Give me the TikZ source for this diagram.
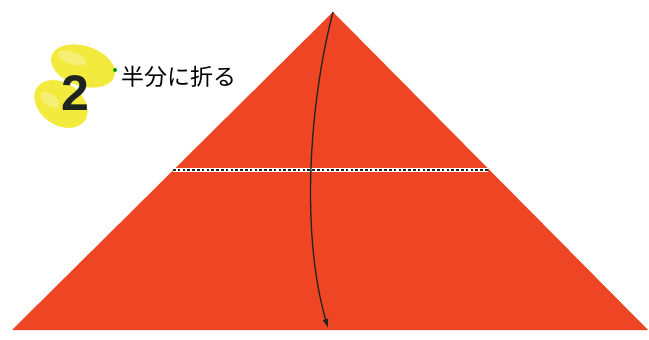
\documentclass[tikz,border=0pt]{standalone}
\usepackage{fontspec}
\usetikzlibrary{arrows.meta}
\newfontfamily\jpfont{Noto Sans CJK JP}
\newfontfamily\numfont{Liberation Sans}
\definecolor{paper}{HTML}{EE4624}
\definecolor{hilite}{HTML}{F2EA3C}
\definecolor{hilitelight}{HTML}{F8F49A}
\definecolor{ink}{HTML}{1E2420}
\begin{document}
\begin{tikzpicture}[x=1pt,y=-1pt,
  sheet/.style={fill=paper,draw=none},
  foldline/.style={white,line width=3.5pt},
  folddash/.style={ink,line width=1.6pt,dash pattern=on 2.6pt off 2.2pt},
  foldarrow/.style={ink,line width=1.3pt,-{Latex[length=9pt,width=6pt]}},
  blob/.style={fill=hilite,draw=none},
  label/.style={font=\jpfont\fontsize{23}{23}\selectfont,text=black,inner sep=0pt,anchor=west}]
\useasboundingbox (0,0) rectangle (649,340);
\fill[white] (0,0) rectangle (649,340);
% sheet
\coordinate (apex) at (333,12);
\coordinate (bl) at (12,330);
\coordinate (br) at (648,330);
\coordinate (tip) at (328,328);
\coordinate (dl) at (173,170);
\coordinate (dr) at (488,170);
\path[sheet] (apex) -- (br) -- (bl) -- cycle;
% fold line
\draw[foldline] (dl) -- (dr);
\draw[folddash] (dl) -- (dr);
% arrow
\draw[foldarrow] (apex) .. controls (310,100) and (300,230) .. (tip);
% step badge
\fill[blob,rotate around={-18:(83,66)}] (83,66) ellipse [x radius=33, y radius=20];
\fill[blob,rotate around={-35:(61,104)}] (61,104) ellipse [x radius=29, y radius=21];
\fill[hilitelight,opacity=0.6,rotate around={-18:(72,58)}] (72,58) ellipse [x radius=15, y radius=6];
\fill[hilitelight,opacity=0.6,rotate around={-35:(50,100)}] (50,100) ellipse [x radius=11, y radius=6];
\fill[green!60!black] (115,70) circle [radius=2];
\node[font=\numfont\bfseries\fontsize{50}{50}\selectfont,text=ink,inner sep=0pt] (num) at (75,93) {2};
\node[label] (title) at (121,77) {半分に折る};
\end{tikzpicture}
\end{document}
